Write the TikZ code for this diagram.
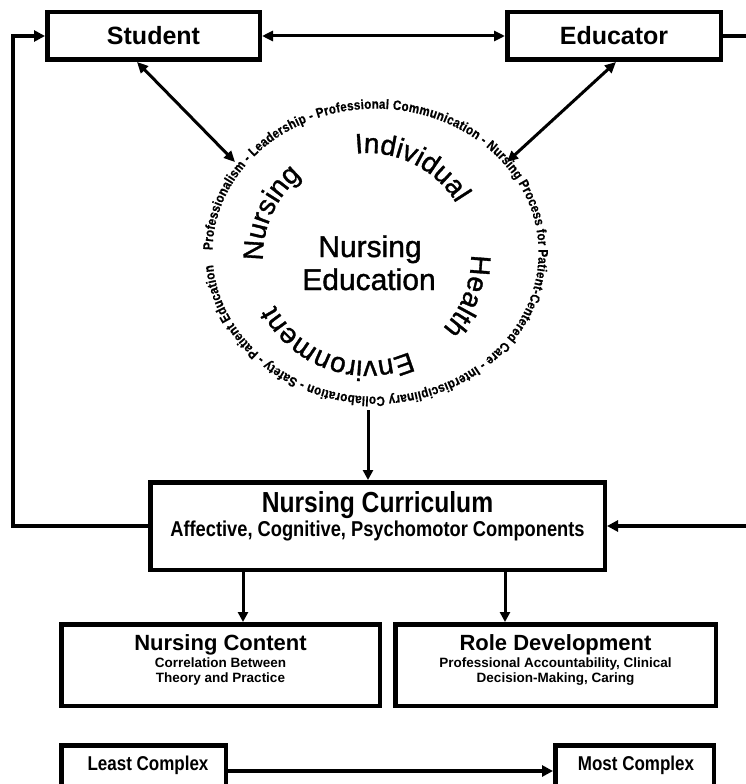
\documentclass[tikz,border=0pt]{standalone}
\usepackage{fontspec}
\setmainfont{Liberation Sans}
\newfontfamily\narrowfont[FakeStretch=0.85]{Liberation Sans}
\newfontfamily\ringfont[FakeStretch=0.86,FakeBold=0.6]{Liberation Sans}
\newfontfamily\heavyfont[FakeBold=1.2]{Liberation Sans}
\usetikzlibrary{arrows.meta,decorations.text}
\begin{document}
\begin{tikzpicture}[x=1pt,y=1pt,
  box/.style={draw=black, line width=4.5pt, fill=white, inner sep=0pt},
  conn/.style={line width=3pt, -{Triangle[length=10pt,width=10pt]}},
  dconn/.style={line width=3pt, {Triangle[length=11pt,width=10pt]}-{Triangle[length=11pt,width=10pt]}},
  heavyconn/.style={line width=4pt, -{Triangle[length=11pt,width=11pt]}},
  lbl/.style={inner sep=0pt, anchor=base},
  ringword/.style={decorate, decoration={text along path, text align=center, text={|\heavyfont\fontsize{28}{30}\selectfont|#1}}}
]
\useasboundingbox (0,0) rectangle (746,-784);
\fill[white] (0,0) rectangle (746,-784);

% boxes
\node[box, minimum width=212.5pt, minimum height=47.5pt] (student) at (153.5,-36) {\fontsize{25}{30}\selectfont\bfseries Student};
\node[box, minimum width=213.5pt, minimum height=47.5pt] (educator) at (614,-36) {\fontsize{25}{30}\selectfont\bfseries Educator};

\node[box, minimum width=454.5pt, minimum height=87.5pt] (curr) at (377.5,-526) {};
\node[lbl] (currtitle) at (377.5,-512) {\narrowfont\bfseries\fontsize{29}{32}\selectfont Nursing Curriculum};
\node[lbl] (currsub) at (377.5,-536) {\narrowfont\bfseries\fontsize{21.5}{26}\selectfont Affective, Cognitive, Psychomotor Components};

\node[box, minimum width=318.5pt, minimum height=81.5pt] (content) at (220.5,-665) {};
\node[lbl] (contenttitle) at (220.5,-650) {\bfseries\fontsize{22}{26}\selectfont Nursing Content};
\node[lbl] (contentla) at (220.5,-667) {\bfseries\fontsize{13.5}{16}\selectfont Correlation Between};
\node[lbl] (contentlb) at (220.5,-682) {\bfseries\fontsize{13.5}{16}\selectfont Theory and Practice};

\node[box, minimum width=320.5pt, minimum height=81.5pt] (role) at (555.5,-665) {};
\node[lbl] (roletitle) at (555.5,-650) {\bfseries\fontsize{22}{26}\selectfont Role Development};
\node[lbl] (rolela) at (555.5,-667) {\bfseries\fontsize{13.5}{16}\selectfont Professional Accountability, Clinical};
\node[lbl] (rolelb) at (555.5,-682) {\bfseries\fontsize{13.5}{16}\selectfont Decision-Making, Caring};

\node[box, minimum width=164.5pt, minimum height=41.5pt] (least) at (143.5,-766) {};
\node[lbl] (leasttext) at (148,-770) {\narrowfont\bfseries\fontsize{20}{24}\selectfont Least Complex};
\node[box, minimum width=158.5pt, minimum height=41.5pt] (most) at (634.5,-766) {};
\node[lbl] (mosttext) at (636,-770) {\narrowfont\bfseries\fontsize{20}{24}\selectfont Most Complex};

% central ring
\coordinate (O) at (375.5,-253);
\path[decorate, decoration={text along path, text align=fit to path,
  text={|\ringfont\bfseries\fontsize{13.5}{15}\selectfont|Professionalism - Leadership - Professional Communication - Nursing Process for Patient-Centered Care - Interdisciplinary Collaboration - Safety - Patient Education}}]
  ([shift={(179:163)}]O) arc[start angle=179, end angle=-175, x radius=163, y radius=144];

\coordinate (C) at (367,-257);
\path[ringword=Nursing] ([shift={(195.5:104)}]C) arc[start angle=195.5, end angle=115.5, radius=104];
\path[ringword=Individual] ([shift={(103.6:104)}]C) arc[start angle=103.6, end angle=23.6, radius=104];
\path[ringword=Health] ([shift={(19:104)}]C) arc[start angle=19, end angle=-61, radius=104];
\path[ringword=Environment] ([shift={(-56:104)}]C) arc[start angle=-56, end angle=-162, radius=104];

\node[lbl] (centera) at (370,-257) {\heavyfont\fontsize{30}{34}\selectfont Nursing};
\node[lbl] (centerb) at (369,-290) {\heavyfont\fontsize{30}{34}\selectfont Education};

% connectors
\coordinate (lcorner) at (13,-526);
\coordinate (rcorner) at (750,-36);
\draw[heavyconn] (curr.west) -- (lcorner) |- (student.west);
\draw[heavyconn] (educator.east) -- (rcorner) |- (curr.east);
\draw[dconn] (student.east) -- (educator.west);
\coordinate (ringnw) at (235,-162);
\coordinate (ringne) at (507,-162);
\coordinate (rings) at (368,-410);
\draw[dconn] ([xshift=-16.5pt]student.south) -- (ringnw);
\draw[dconn] ([xshift=2pt]educator.south) -- (ringne);
\draw[conn] (rings) -- (rings |- curr.north);
\coordinate (dl) at (243,0);
\coordinate (dr) at (505,0);
\draw[conn] (dl |- curr.south) -- (dl |- content.north);
\draw[conn] (dr |- curr.south) -- (dr |- role.north);
\draw[heavyconn] ([yshift=-5pt]least.east) -- ([yshift=-5pt]most.west);
\end{tikzpicture}
\end{document}
